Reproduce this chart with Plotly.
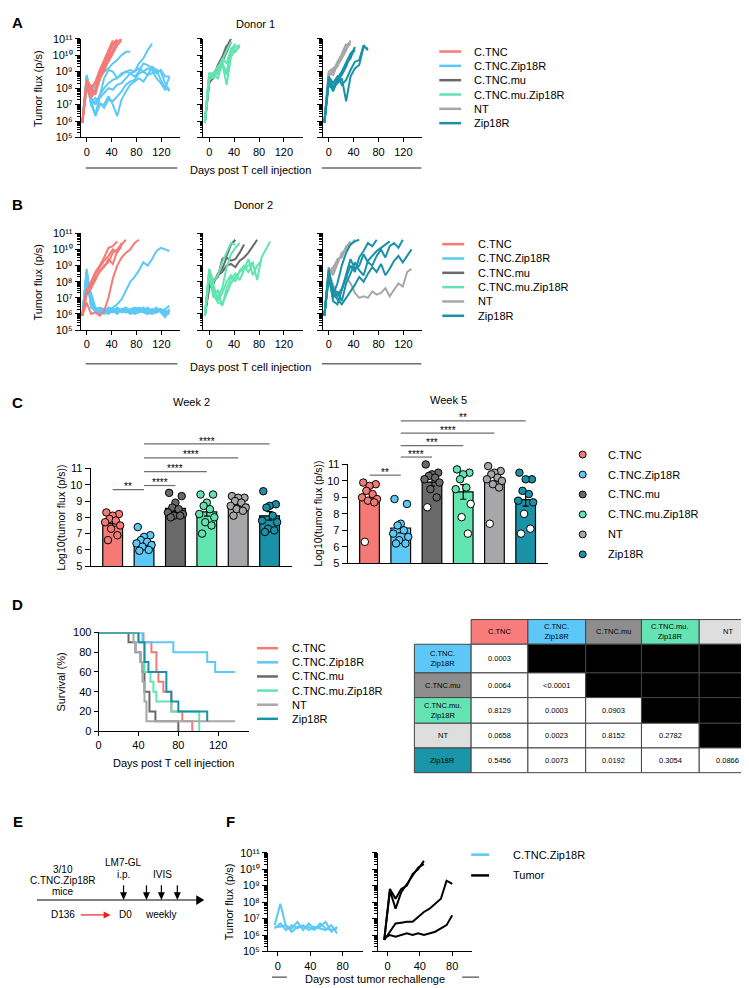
import numpy as np
import plotly.graph_objects as go

W, H = 749, 988
FONT = "Liberation Sans, Arial, Helvetica, sans-serif"

GROUPS = ["C.TNC", "C.TNC.Zip18R", "C.TNC.mu", "C.TNC.mu.Zip18R", "NT", "Zip18R"]
COLORS = ["#F57A75", "#5CC8F6", "#696969", "#62E4B1", "#A7A7A9", "#1992A7"]
TABLE_COLORS = ["#F77C7B", "#5DC8F8", "#8D8D8D", "#64E4B4", "#DEDEDE", "#1A94A9"]
TABLE_LABELS = ["C.TNC", "C.TNC.<br>Zip18R", "C.TNC.mu", "C.TNC.mu.<br>Zip18R", "NT", "Zip18R"]

# ---------------- Panels A/B: log10 tumor flux per mouse, weekly imaging ----------------
DAYS = [-7, 0, 7, 14, 21, 28, 35, 42, 49, 56, 63, 70, 77, 84, 91, 98, 105, 112, 119, 126, 133]

d1_CTNC = [
    [5.9, 8.4, 8.0, 7.6, 8.6, 9.0, 9.8, 10.3, 10.8, 11.0],
    [5.9, 8.2, 7.6, 7.9, 8.8, 9.3, 10.0, 10.6, 10.9],
    [5.9, 8.5, 8.1, 8.3, 8.9, 9.5, 10.2, 10.7, 10.95],
    [5.9, 8.0, 7.4, 7.8, 8.5, 9.2, 9.6, 10.1, 10.6, 10.9],
    [5.9, 8.3, 7.9, 8.4, 9.1, 9.7, 10.4, 10.9],
]
d1_CTNC_Zip18R = [
    [5.9, 8.8, 7.6, 8.3, 8.9, 9.0, 9.2, 9.5, 9.7, 10.0, 10.2, 10.2],
    [5.9, 8.7, 7.4, 7.0, 7.6, 8.0, 8.3, 8.5, 8.6, 8.8, 9.0, 9.1, 9.0, 9.5, 9.8, 10.3, 10.7],
    [5.9, 8.6, 7.0, 6.4, 7.5, 8.6, 9.1, 9.0, 8.6, 8.9, 9.0, 8.9, 8.7, 9.0, 9.5, 9.4, 9.2, 8.9, 9.1, 8.7, 8.7],
    [5.9, 8.5, 7.2, 7.4, 7.1, 6.8, 7.3, 7.2, 7.5, 7.8, 8.2, 8.4, 8.5, 8.9, 9.0, 9.2, 9.1, 8.6, 8.3, 7.9, 8.0],
    [5.9, 8.7, 7.3, 6.3, 7.0, 7.0, 7.5, 7.0, 6.3, 7.3, 7.8, 8.2, 8.4, 8.6, 8.4, 8.8, 8.9, 9.1, 9.0, 8.3, 7.8],
    [5.9, 8.4, 7.0, 7.2, 7.4, 7.7, 8.0, 7.9, 8.2, 8.3, 8.6, 8.9, 9.0, 9.2, 9.0, 8.8, 9.3, 9.1, 8.5, 8.0, 8.7],
]
d1_CTNC_mu = [
    [5.9, 8.4, 8.6, 9.2, 9.7, 10.5, 11.0],
    [5.9, 8.3, 8.7, 9.4, 9.9, 10.6],
    [5.9, 8.6, 8.9, 9.3, 9.6, 10.2, 10.8],
]
d1_CTNC_mu_Zip18R = [
    [5.9, 8.9, 8.6, 9.1, 9.4, 9.0, 10.3, 10.7],
    [5.9, 8.8, 8.9, 9.0, 9.8, 9.5, 10.4, 10.2, 10.6],
    [5.9, 8.7, 8.8, 8.6, 9.5, 8.2, 9.9, 10.3, 10.5],
    [5.9, 8.9, 8.9, 9.3, 9.7, 10.3, 10.8],
    [5.9, 8.5, 8.7, 8.9, 9.6, 8.8, 10.1, 10.5, 10.6],
]
d1_NT = [
    [5.9, 9.0, 9.2, 9.4, 9.8, 10.3, 10.9],
    [5.9, 8.8, 9.0, 9.6, 10.0, 10.6, 10.8],
    [5.9, 8.7, 9.1, 9.3, 9.9, 10.4, 10.7],
    [5.9, 8.9, 8.8, 9.5, 10.1, 10.7],
]
d1_Zip18R = [
    [5.9, 8.6, 7.8, 8.5, 8.8, 9.3, 10.0, 10.3],
    [5.9, 8.4, 8.0, 8.6, 9.0, 9.6, 10.1, 10.4],
    [5.9, 8.5, 8.1, 8.3, 8.6, 7.2, 8.7, 9.2, 9.4, 10.5, 10.4],
    [5.9, 8.7, 8.3, 8.7, 8.2, 8.5, 9.1, 9.6, 9.7, 10.6, 10.3],
    [5.9, 8.2, 7.9, 8.4, 8.9, 9.5, 9.8, 10.5],
]

d2_CTNC = [
    [5.9, 7.3, 7.6, 8.3, 8.6, 9.0, 9.2, 9.8, 10.0, 10.3, 10.6],
    [5.9, 7.5, 7.8, 8.5, 8.9, 9.3, 9.6, 10.0, 9.8, 10.2],
    [5.9, 7.2, 7.6, 8.1, 8.7, 8.9, 9.4, 9.1, 9.9, 10.4],
    [5.9, 7.4, 8.0, 8.6, 9.0, 9.5, 10.1, 10.2, 10.5],
    [5.9, 6.7, 6.0, 6.1, 5.9, 6.2, 7.0, 8.2, 9.0, 9.5, 9.8, 10.0, 10.4, 10.6],
]
d2_CTNC_Zip18R = [
    [5.9, 8.8, 6.5, 6.3, 6.4, 6.3, 6.2, 6.4, 6.6, 6.9, 7.5, 8.0, 8.3, 8.7, 9.2, 9.0, 9.4, 9.9, 10.1, 10.0, 9.9],
    [5.9, 8.7, 6.8, 6.2, 6.3, 6.2, 6.1, 6.3, 6.2, 6.3, 6.4, 6.2, 6.3, 6.2, 6.4, 6.2, 6.3, 6.1, 6.2, 6.3, 6.5],
    [5.9, 8.5, 7.0, 6.3, 6.1, 6.3, 6.3, 6.2, 6.4, 6.2, 6.1, 6.3, 6.4, 6.3, 6.2, 6.4, 6.1, 6.3, 6.3, 6.2, 6.1],
    [5.9, 8.3, 7.3, 6.4, 6.2, 6.1, 6.4, 6.3, 6.1, 6.2, 6.3, 6.1, 6.2, 6.4, 6.3, 6.3, 6.2, 6.4, 6.1, 5.8, 6.2],
    [5.9, 8.0, 6.6, 6.1, 6.2, 6.0, 6.2, 6.1, 6.3, 6.1, 6.2, 6.0, 6.1, 6.2, 6.1, 6.0, 6.3, 6.2, 6.2, 6.1, 6.0],
    [5.9, 8.6, 6.4, 6.2, 6.0, 6.1, 6.0, 6.2, 6.0, 6.3, 6.1, 6.2, 6.0, 6.1, 6.2, 6.1, 6.0, 6.1, 6.3, 5.9, 6.3],
]
d2_CTNC_mu = [
    [5.9, 7.8, 8.1, 8.3, 9.4, 9.6, 10.3, 10.6],
    [5.9, 8.0, 7.9, 8.5, 8.8, 9.5, 9.3, 9.4, 9.8, 10.3],
    [5.9, 7.6, 8.0, 8.4, 8.6, 9.0, 9.1, 8.9, 9.3, 9.5, 9.8, 10.2, 10.6],
]
d2_CTNC_mu_Zip18R = [
    [5.9, 8.8, 8.0, 8.4, 9.2, 9.8, 10.4, 10.3],
    [5.9, 8.6, 7.5, 7.0, 7.6, 8.9, 9.7, 10.1, 10.4],
    [5.9, 8.5, 7.2, 6.7, 6.6, 7.3, 7.9, 8.3, 8.6, 8.8, 9.0, 9.2, 8.1, 9.5, 10.0, 10.5],
    [5.9, 8.7, 7.8, 6.8, 7.3, 8.0, 8.4, 8.0, 8.7, 9.0, 8.6, 9.1],
    [5.9, 8.4, 7.0, 7.5, 6.5, 7.6, 8.2, 8.5, 8.1, 8.7, 9.4, 8.4, 9.0, 9.3],
]
d2_NT = [
    [5.9, 8.6, 8.9, 9.3, 9.6, 10.1, 10.5],
    [5.9, 8.9, 8.4, 9.1, 9.8, 10.0, 10.3, 10.6],
    [5.9, 8.3, 8.7, 9.4, 9.5, 10.2, 10.4],
    [5.9, 8.6, 7.8, 7.2, 7.6, 8.3, 7.9, 7.3, 7.0, 7.1, 7.0, 7.4, 7.2, 7.3, 7.6, 7.1, 7.5, 7.9, 7.7, 8.6, 8.8],
]
d2_Zip18R = [
    [5.9, 8.8, 7.2, 7.9, 9.0, 9.8, 10.3, 10.5, 10.6],
    [5.9, 8.5, 6.8, 6.6, 7.5, 8.2, 9.0, 8.6, 9.5, 9.9, 10.4, 10.2, 10.6],
    [5.9, 8.2, 7.0, 7.4, 6.8, 7.9, 8.5, 9.2, 8.7, 8.4, 9.3, 9.6, 9.9, 10.1, 10.3, 10.5],
    [5.9, 8.6, 7.3, 6.9, 6.6, 7.0, 7.4, 7.8, 8.3, 8.0, 8.5, 8.9, 8.6, 9.1, 8.4, 8.8, 9.3, 9.6, 9.2, 9.6, 10.0],
    [5.9, 8.4, 7.6, 7.1, 7.5, 8.4, 9.4, 8.8, 9.0, 9.7, 9.2, 9.0, 9.6, 10.0, 9.5, 10.2, 10.4, 10.1, 10.6],
]

# ---------------- Panel C: log10 tumor flux at week 2 / week 5 ----------------
wk2_CTNC = [8.3, 8.2, 8.1, 7.9, 7.8, 7.7, 7.5, 7.3, 6.9, 6.6]
wk2_CTNC_Zip18R = [7.4, 6.9, 6.8, 6.6, 6.5, 6.4, 6.3, 6.2, 6.0, 5.95]
wk2_CTNC_mu = [9.5, 9.3, 8.9, 8.6, 8.5, 8.3, 8.2, 8.1, 8.1, 8.0]
wk2_CTNC_mu_Zip18R = [9.4, 9.4, 8.9, 8.7, 8.5, 8.2, 8.0, 7.7, 7.5, 7.0]
wk2_NT = [9.3, 9.2, 9.2, 9.0, 8.9, 8.7, 8.6, 8.5, 8.4, 8.1]
wk2_Zip18R = [9.6, 8.8, 8.7, 8.6, 8.1, 7.8, 7.7, 7.3, 7.2, 7.1]

wk5_CTNC = [9.9, 9.8, 9.7, 9.4, 9.2, 9.0, 8.9, 8.8, 8.7, 6.3]
wk5_CTNC_Zip18R = [8.9, 8.6, 7.4, 7.3, 7.0, 6.8, 6.6, 6.4, 6.2, 6.2]
wk5_CTNC_mu = [11.0, 10.5, 10.4, 10.3, 10.2, 10.1, 9.9, 9.5, 9.0, 8.4]
wk5_CTNC_mu_Zip18R = [10.7, 10.5, 10.4, 10.1, 9.6, 9.5, 8.6, 7.8, 6.8]
wk5_NT = [10.9, 10.6, 10.5, 10.4, 10.2, 10.1, 10.0, 9.8, 9.6, 7.4]
wk5_Zip18R = [10.5, 10.1, 10.1, 9.4, 9.2, 8.8, 8.7, 8.0, 7.1, 6.8]
# open (white) symbols in week 5
wk5_open_CTNC = [0, 0, 0, 0, 0, 0, 0, 0, 0, 1]
wk5_open_CTNC_Zip18R = [0, 0, 0, 0, 0, 0, 0, 0, 0, 0]
wk5_open_CTNC_mu = [0, 0, 0, 0, 0, 0, 0, 0, 0, 1]
wk5_open_CTNC_mu_Zip18R = [0, 0, 0, 0, 0, 0, 1, 1, 1]
wk5_open_NT = [0, 0, 0, 0, 0, 0, 0, 0, 0, 1]
wk5_open_Zip18R = [0, 0, 0, 0, 0, 0, 0, 1, 1, 1]

sig_wk2 = [("**", 0, 1, 9.7), ("****", 1, 2, 9.95), ("****", 1, 3, 10.8), ("****", 1, 4, 11.65), ("****", 1, 5, 12.5)]
sig_wk5 = [("**", 0, 1, 10.35), ("****", 1, 2, 11.45), ("***", 1, 3, 12.15), ("****", 1, 4, 12.9), ("**", 1, 5, 13.65)]

# ---------------- Panel D: survival ----------------
surv_days_CTNC = [0, 45, 53, 58, 60, 65, 73, 84, 94]
surv_pct_CTNC = [100, 90, 80, 60, 50, 40, 20, 10, 0]
surv_days_CTNC_Zip18R = [0, 44, 75, 109, 117, 137]
surv_pct_CTNC_Zip18R = [100, 90, 80, 70, 60, 60]
surv_days_CTNC_mu = [0, 30, 37, 42, 44, 46, 51, 57, 80]
surv_pct_CTNC_mu = [100, 90, 80, 70, 60, 40, 20, 10, 0]
surv_days_CTNC_mu_Zip18R = [0, 40, 46, 52, 55, 58, 73, 101]
surv_pct_CTNC_mu_Zip18R = [100, 90, 60, 50, 40, 30, 20, 0]
surv_days_NT = [0, 35, 37, 42, 44, 46, 48, 137]
surv_pct_NT = [100, 90, 80, 70, 50, 30, 10, 10]
surv_days_Zip18R = [0, 40, 46, 50, 68, 73, 80, 109]
surv_pct_Zip18R = [100, 90, 70, 60, 40, 30, 20, 10]

PVALS = [
    ["0.0003"],
    ["0.0064", "<0.0001"],
    ["0.8129", "0.0003", "0.0903"],
    ["0.0658", "0.0023", "0.8152", "0.2782"],
    ["0.5456", "0.0073", "0.0192", "0.3054", "0.0866"],
]

# ---------------- Panel F: rechallenge ----------------
F_DAYS = [-4, 3, 10, 17, 24, 31, 38, 45, 52, 59, 66, 73, 80]
rechal_Zip18R = [
    [6.6, 7.9, 6.5, 6.4, 6.8, 6.3, 6.7, 6.4, 6.5, 6.8, 6.2, 6.5],
    [6.4, 6.7, 6.3, 6.6, 6.4, 6.6, 6.3, 6.5, 6.4, 6.3, 6.6, 6.1],
    [6.5, 6.5, 6.6, 6.2, 6.5, 6.5, 6.5, 6.3, 6.7, 6.4, 6.3, 6.4],
]
rechal_tumor = [
    [5.7, 8.8, 8.2, 8.8, 9.0, 9.7, 10.0, 10.5],
    [5.7, 8.7, 7.6, 8.6, 9.1, 9.6, 10.1, 10.3],
    [5.7, 6.2, 6.7, 6.75, 6.8, 6.8, 7.1, 7.4, 7.6, 7.9, 8.2, 9.3, 9.1],
    [5.8, 6.0, 5.9, 6.0, 6.1, 6.0, 6.1, 6.0, 6.1, 6.2, 6.4, 6.6, 7.2],
]

# =====================================================================
def px_x(p):
    return p / W


def px_y(p):
    return 1 - p / H


def ax_key(k, c):
    return f"{c}axis" if k == 1 else f"{c}axis{k}"


def ref(k, c):
    return c if k == 1 else f"{c}{k}"


layout = dict(width=W, height=H, autosize=False, margin=dict(l=0, r=0, t=0, b=0),
              paper_bgcolor="white", plot_bgcolor="white", showlegend=False,
              font=dict(family=FONT, size=11, color="black"))
shapes, annotations = [], []
fig = go.Figure()


def text(x, y, s, size=11, xanchor="center", yanchor="middle", angle=0, color="black"):
    annotations.append(dict(x=px_x(x), y=px_y(y), xref="paper", yref="paper", text=s,
                            showarrow=False, xanchor=xanchor, yanchor=yanchor, textangle=angle,
                            font=dict(size=size, color=color, family=FONT)))


def pline(x0, y0, x1, y1, color="black", width=1):
    shapes.append(dict(type="line", xref="paper", yref="paper", x0=px_x(x0), y0=px_y(y0),
                       x1=px_x(x1), y1=px_y(y1), line=dict(color=color, width=width)))


def ptri(pts, color="black"):
    path = "M " + " L ".join(f"{px_x(a)},{px_y(b)}" for a, b in pts) + " Z"
    shapes.append(dict(type="path", xref="paper", yref="paper", path=path,
                       fillcolor=color, line=dict(color=color, width=0)))


def set_axes(k, xdom, ydom, xcfg, ycfg):
    base = dict(showgrid=False, zeroline=False, showline=True, linecolor="black", linewidth=1,
                ticks="outside", tickcolor="black", tickwidth=1, ticklen=4,
                tickfont=dict(size=11, family=FONT), fixedrange=True)
    xa = dict(base, domain=[px_x(xdom[0]), px_x(xdom[1])], anchor=ref(k, "y"))
    xa.update(xcfg)
    ya = dict(base, domain=[px_y(ydom[1]), px_y(ydom[0])], anchor=ref(k, "x"))
    ya.update(ycfg)
    layout[ax_key(k, "x")] = xa
    layout[ax_key(k, "y")] = ya


SUP = str.maketrans("0123456789", "⁰¹²³⁴⁵⁶⁷⁸⁹")
LOG_TICKS = [10.0 ** n for n in range(5, 12)]
LOG_TEXT = ["10" + str(n).translate(SUP) for n in range(5, 12)]
LOG_MINOR = [m * 10.0 ** n for n in range(5, 11) for m in range(2, 10)]


def log_y(labels=True):
    return dict(type="log", range=[5, 11], tickmode="array", tickvals=LOG_TICKS,
                ticktext=LOG_TEXT, showticklabels=labels, ticklen=5,
                minor=dict(tickmode="array", tickvals=LOG_MINOR, ticks="outside", ticklen=2.5,
                           tickcolor="black", tickwidth=1, showgrid=False))


# ---------------- Panels A and B ----------------
AB_X = [(70, 170), (193, 293), (313, 413)]
donor_sets = [
    ((25, 125), [[d1_CTNC_Zip18R, d1_CTNC], [d1_CTNC_mu, d1_CTNC_mu_Zip18R], [d1_NT, d1_Zip18R]],
     [[1, 0], [2, 3], [4, 5]]),
    ((222, 320), [[d2_CTNC_Zip18R, d2_CTNC], [d2_CTNC_mu, d2_CTNC_mu_Zip18R], [d2_NT, d2_Zip18R]],
     [[1, 0], [2, 3], [4, 5]]),
]
k = 0
for ydom, sets, gidx in donor_sets:
    for j in range(3):
        k += 1
        set_axes(k, AB_X[j], ydom,
                 dict(range=[-9.6, 150.4], tickmode="array", tickvals=[0, 40, 80, 120]),
                 log_y(labels=(j == 0)))
        for mice, g in zip(sets[j], gidx[j]):
            for v in mice:
                fig.add_trace(go.Scatter(x=DAYS[:len(v)], y=[10 ** a for a in v], mode="lines",
                                         line=dict(color=COLORS[g], width=2),
                                         xaxis=ref(k, "x"), yaxis=ref(k, "y"), hoverinfo="skip"))

# ---------------- Panel C ----------------
wk2_all = [wk2_CTNC, wk2_CTNC_Zip18R, wk2_CTNC_mu, wk2_CTNC_mu_Zip18R, wk2_NT, wk2_Zip18R]
wk5_all = [wk5_CTNC, wk5_CTNC_Zip18R, wk5_CTNC_mu, wk5_CTNC_mu_Zip18R, wk5_NT, wk5_Zip18R]
wk5_open = [wk5_open_CTNC, wk5_open_CTNC_Zip18R, wk5_open_CTNC_mu, wk5_open_CTNC_mu_Zip18R,
            wk5_open_NT, wk5_open_Zip18R]
JIT = [-0.2, 0.2, 0.0, -0.1, 0.1, -0.24, 0.24, -0.05, 0.15, -0.15]
XR = [-0.7, 5.71]

for k, xdom, ydom, data, opens, sigs in [
        (7, (80, 282), (460, 559), wk2_all, None, sig_wk2),
        (8, (338, 539), (456, 556), wk5_all, wk5_open, sig_wk5)]:
    set_axes(k, xdom, ydom,
             dict(range=XR, ticks="", showticklabels=False),
             dict(range=[5, 11], tickmode="array", tickvals=list(range(5, 12)), ticklen=5))
    means = [float(np.mean(v)) for v in data]
    sems = [float(np.std(v, ddof=1) / np.sqrt(len(v))) for v in data]
    fig.add_trace(go.Bar(x=list(range(6)), y=means, width=0.63,
                         marker=dict(color=COLORS, line=dict(color="black", width=1.2)),
                         error_y=dict(type="data", array=sems, color="black", thickness=1.2, width=3),
                         xaxis=ref(k, "x"), yaxis=ref(k, "y"), hoverinfo="skip"))
    for g, v in enumerate(data):
        fills = [("white" if (opens and opens[g][i]) else COLORS[g]) for i in range(len(v))]
        fig.add_trace(go.Scatter(x=[g + JIT[i] for i in range(len(v))], y=v, mode="markers",
                                 marker=dict(size=7.5, color=fills, line=dict(color="black", width=1)),
                                 cliponaxis=False,
                                 xaxis=ref(k, "x"), yaxis=ref(k, "y"), hoverinfo="skip"))
    xr = XR[1] - XR[0]
    for lab, a, b, yv in sigs:
        fa, fb = (a - XR[0]) / xr, (b - XR[0]) / xr
        fy = (yv - 5) / 6.0
        shapes.append(dict(type="line", xref=f"{ref(k, 'x')} domain", yref=f"{ref(k, 'y')} domain",
                           x0=fa, x1=fb, y0=fy, y1=fy, line=dict(color="#6E6E6E", width=1.2)))
        annotations.append(dict(xref=f"{ref(k, 'x')} domain", yref=f"{ref(k, 'y')} domain",
                                x=(fa + fb) / 2, y=fy + 3.0 / 100, text=lab, showarrow=False,
                                xanchor="center", yanchor="middle",
                                font=dict(size=10, family=FONT, color="black")))

# ---------------- Panel D ----------------
set_axes(9, (88, 239), (626, 726),
         dict(range=[0, 151], tickmode="array", tickvals=[0, 40, 80, 120]),
         dict(range=[0, 100], tickmode="array", tickvals=[0, 20, 40, 60, 80, 100]))
surv = [(surv_days_CTNC, surv_pct_CTNC), (surv_days_CTNC_Zip18R, surv_pct_CTNC_Zip18R),
        (surv_days_CTNC_mu, surv_pct_CTNC_mu), (surv_days_CTNC_mu_Zip18R, surv_pct_CTNC_mu_Zip18R),
        (surv_days_NT, surv_pct_NT), (surv_days_Zip18R, surv_pct_Zip18R)]
for g, (d, p) in enumerate(surv):
    fig.add_trace(go.Scatter(x=d, y=p, mode="lines", line=dict(color=COLORS[g], width=2, shape="hv"),
                             cliponaxis=False, xaxis="x9", yaxis="y9", hoverinfo="skip"))

# ---------------- Panel F ----------------
for k, xdom, mice, col, lab in [(10, (258, 353), rechal_Zip18R, COLORS[1], True),
                                (11, (368, 463), rechal_tumor, "black", False)]:
    set_axes(k, xdom, (849, 949),
             dict(range=[-12.3, 104.6], tickmode="array", tickvals=[0, 40, 80]),
             log_y(labels=lab))
    for v in mice:
        fig.add_trace(go.Scatter(x=F_DAYS[:len(v)], y=[10 ** a for a in v], mode="lines",
                                 line=dict(color=col, width=2),
                                 xaxis=ref(k, "x"), yaxis=ref(k, "y"), hoverinfo="skip"))

# ---------------- Texts, legends, decorations ----------------
for lab, x, y in [("A", 7, 9), ("B", 7, 193), ("C", 7, 393), ("D", 7, 598), ("E", 7, 817), ("F", 220, 817)]:
    text(x, y, f"<b>{lab}</b>", size=15)

text(245, 10, "Donor 1", size=11)
text(243, 193, "Donor 2", size=11)
text(27, 75, "Tumor flux (p/s)", size=11, angle=-90)
text(27, 271, "Tumor flux (p/s)", size=11, angle=-90)
for ytxt, yln in [(158, 156), (357, 354)]:
    text(240, ytxt, "Days post T cell injection", size=11)
    pline(75, yln, 167, yln, color="#6E6E6E", width=1.5)
    pline(312, yln, 412, yln, color="#6E6E6E", width=1.5)

# A / B line legends
for x0, x1, xt, y0 in [(430, 452, 463, 38), (433, 455, 467, 233)]:
    for g in range(6):
        yy = y0 + 14.5 * g
        pline(x0, yy, x1, yy, color=COLORS[g], width=2.5)
        text(xt, yy, GROUPS[g], size=11, xanchor="left")

# C
text(181, 393, "Week 2", size=11)
text(439, 391, "Week 5", size=11)
text(50, 510, "Log10(tumor flux (p/s))", size=10.5, angle=-90)
text(308, 506, "Log10(tumor flux (p/s))", size=10.5, angle=-90)
for g in range(6):
    yy = 446 + 20.2 * g
    shapes.append(dict(type="circle", xref="paper", yref="paper",
                       x0=px_x(570.5), x1=px_x(577.5), y0=px_y(yy + 3.5), y1=px_y(yy - 3.5),
                       fillcolor=COLORS[g], line=dict(color="black", width=1)))
    text(597, yy, GROUPS[g], size=11, xanchor="left")

# D
text(50, 676, "Survival (%)", size=11, angle=-90)
text(163, 758, "Days post T cell injection", size=11)
for g in range(6):
    yy = 642 + 14.3 * g
    pline(247, yy, 268, yy, color=COLORS[g], width=2.5)
    text(280, yy, GROUPS[g], size=11, xanchor="left")

# D table
col_x = [405, 462, 519, 577, 633, 691, 748]
row_y = [613, 638, 667, 692, 718, 743, 768]


def cell(c, r, fill, label, tcolor="black"):
    shapes.append(dict(type="rect", xref="paper", yref="paper",
                       x0=px_x(col_x[c]), x1=px_x(col_x[c + 1]),
                       y0=px_y(row_y[r + 1]), y1=px_y(row_y[r]),
                       fillcolor=fill, line=dict(color="#444444", width=1)))
    if label:
        annotations.append(dict(x=px_x((col_x[c] + col_x[c + 1]) / 2),
                                y=px_y((row_y[r] + row_y[r + 1]) / 2),
                                xref="paper", yref="paper", text=label, showarrow=False,
                                xanchor="center", yanchor="middle",
                                font=dict(size=7.5, family=FONT, color=tcolor)))


for j in range(5):
    cell(j + 1, 0, TABLE_COLORS[j], TABLE_LABELS[j])
for i in range(5):
    cell(0, i + 1, TABLE_COLORS[i + 1], TABLE_LABELS[i + 1])
    for j in range(5):
        if j < len(PVALS[i]):
            cell(j + 1, i + 1, "white", PVALS[i][j].replace("<", "&lt;"))
        else:
            cell(j + 1, i + 1, "black", "")

# E timeline
pline(26, 897, 187, 897, color="#808080", width=2)
ptri([(186, 892), (194, 897), (186, 902)])
text(52, 866, "3/10", size=10)
text(52, 877, "C.TNC.Zip18R", size=10)
text(52, 888, "mice", size=10)
text(113, 859, "LM7-GL", size=10)
text(113, 871, "i.p.", size=10)
text(152, 871, "IVIS", size=10)
for ax in [113, 136, 151, 167]:
    pline(ax, 882, ax, 890, color="black", width=1.2)
    ptri([(ax - 3.5, 889), (ax + 3.5, 889), (ax, 897)])
text(52, 912, "D136", size=10)
pline(70, 912, 94, 912, color="#E8231F", width=1.2)
ptri([(93, 908.5), (100, 912), (93, 915.5)], color="#E8231F")
text(115, 912, "D0", size=10)
text(151, 912, "weekly", size=10)

# F
text(219, 899, "Tumor flux (p/s)", size=11, angle=-90)
text(365, 977, "Days post tumor rechallenge", size=11)
pline(262, 975, 277, 975, color="#6E6E6E", width=1.5)
pline(453, 975, 470, 975, color="#6E6E6E", width=1.5)
for yy, col, lab in [(851, COLORS[1], "C.TNC.Zip18R"), (872, "black", "Tumor")]:
    pline(462, yy, 480, yy, color=col, width=2.5)
    text(502, yy, lab, size=11, xanchor="left")

layout["shapes"] = shapes
layout["annotations"] = annotations
fig.update_layout(**layout)
fig.write_html("out.html", config={"displayModeBar": False})
